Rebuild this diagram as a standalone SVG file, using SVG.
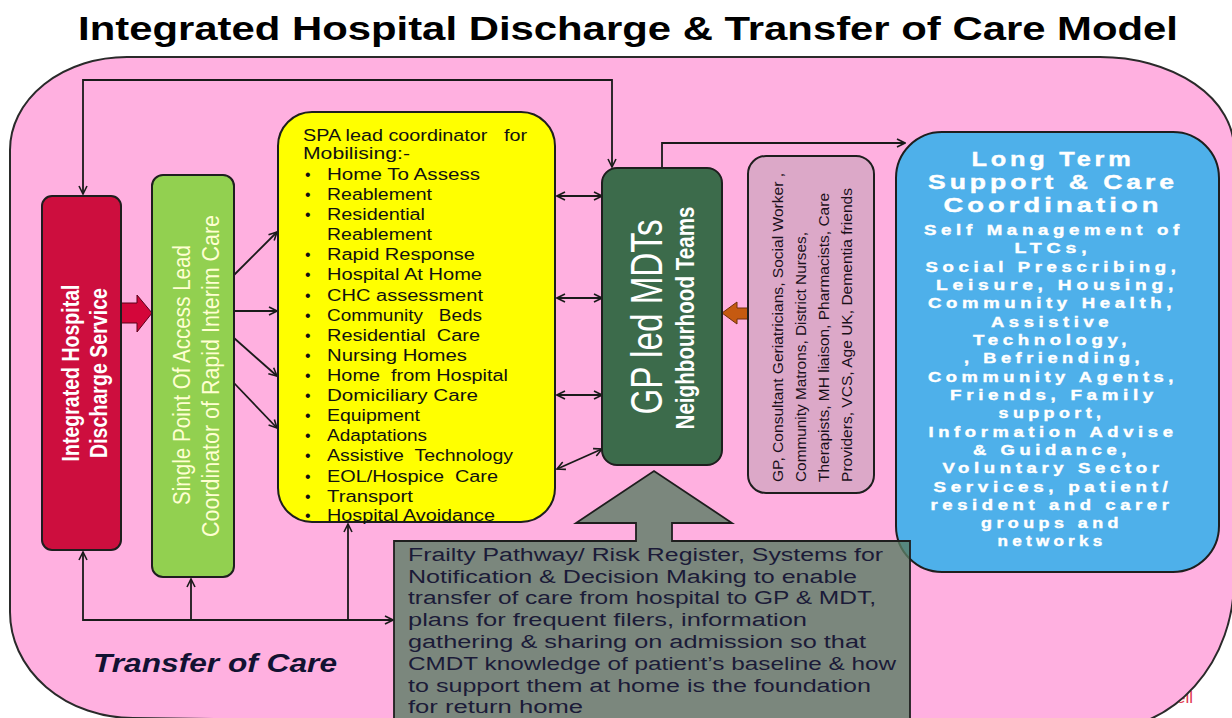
<svg xmlns="http://www.w3.org/2000/svg" width="1232" height="718" viewBox="0 0 1232 718">
  <style>
    .node { stroke:#1e1e1e; stroke-width:2; }
    .conn { fill:none; stroke:#1a1a1a; stroke-width:1.8; }
    .sans { font-family:"Liberation Sans", Arial, sans-serif; }
    .ylw { font-family:"Liberation Sans", Arial, sans-serif; font-size:16px; fill:#111; }
    .blueT { font-family:"Liberation Sans", Arial, sans-serif; font-weight:bold; fill:#fff; stroke:#fff; stroke-width:0.4; }
    .gray { font-family:"Liberation Sans", Arial, sans-serif; font-size:18px; fill:#1b1b38; }
    .team { font-family:"Liberation Sans", Arial, sans-serif; font-size:12px; fill:#1a101a; }
  </style>
  <defs>
    <marker id="arr" viewBox="0 0 10 10" refX="9" refY="5" markerWidth="10" markerHeight="10" markerUnits="userSpaceOnUse" orient="auto-start-reverse">
      <path d="M1,1 L9,5 L1,9" fill="none" stroke="#1a1a1a" stroke-width="1.6"/>
    </marker>
  </defs>

  <rect width="1232" height="718" fill="#ffffff"/>

  <!-- partial logo word at the lower right -->
  <text x="1176" y="703" class="sans" font-size="17" fill="#e23a55">ell</text>

  <!-- title -->
  <text x="78" y="40" class="sans" font-size="34" font-weight="bold" fill="#000" textLength="1100" lengthAdjust="spacingAndGlyphs">Integrated Hospital Discharge &amp; Transfer of Care Model</text>

  <!-- outer rounded panel -->
  <path d="M127,57 H1100 A134,92 0 0 1 1234,149 V580 A134,150 0 0 1 1100,730 L133,718 A123,106 0 0 1 10,612 V150 A117,93 0 0 1 127,57 Z" fill="#ffb0e0" stroke="#2a2a2a" stroke-width="2"/>

  <text x="93" y="672" class="sans" font-size="25" font-weight="bold" font-style="italic" fill="#121232" textLength="244" lengthAdjust="spacingAndGlyphs">Transfer of Care</text>

  <!-- connectors -->
  <g id="connectors">
    <path class="conn" d="M83,194 V80 H612 V167" marker-start="url(#arr)" marker-end="url(#arr)"/>
    <path class="conn" d="M662,168 V143 H905" marker-end="url(#arr)"/>
    <line class="conn" x1="234" y1="275" x2="277" y2="232" marker-end="url(#arr)"/>
    <line class="conn" x1="234" y1="311" x2="277" y2="311" marker-end="url(#arr)"/>
    <line class="conn" x1="234" y1="338" x2="277" y2="376" marker-end="url(#arr)"/>
    <line class="conn" x1="234" y1="383" x2="277" y2="428" marker-end="url(#arr)"/>
    <line class="conn" x1="557" y1="196" x2="602" y2="196" marker-start="url(#arr)" marker-end="url(#arr)"/>
    <line class="conn" x1="557" y1="298" x2="602" y2="298" marker-start="url(#arr)" marker-end="url(#arr)"/>
    <line class="conn" x1="557" y1="395" x2="602" y2="395" marker-start="url(#arr)" marker-end="url(#arr)"/>
    <line class="conn" x1="557" y1="469" x2="602" y2="449" marker-start="url(#arr)" marker-end="url(#arr)"/>
    <path class="conn" d="M83,552 V620 H393" marker-start="url(#arr)" marker-end="url(#arr)"/>
    <path class="conn" d="M191,620 V579" marker-end="url(#arr)"/>
    <path class="conn" d="M348,620 V524" marker-end="url(#arr)"/>
    <polygon points="152,313 137,295 137,303 121,303 121,323 137,323 137,332" fill="#d4063a" stroke="#5a0018" stroke-width="1"/>
    <polygon points="722,313 737,302 737,308 748,308 748,319 737,319 737,324" fill="#c55a11" stroke="#6e300a" stroke-width="1"/>
  </g>

  <!-- Integrated Hospital Discharge Service -->
  <g id="discharge">
    <rect class="node" x="42" y="196" width="79" height="354" rx="10" fill="#cd0e3e"/>
    <text class="sans" font-size="19" font-weight="bold" fill="#fff" text-anchor="middle" textLength="177" lengthAdjust="spacingAndGlyphs" transform="translate(79,373) scale(1.23,1) rotate(-90)">Integrated Hospital</text>
    <text class="sans" font-size="19" font-weight="bold" fill="#fff" text-anchor="middle" textLength="170" lengthAdjust="spacingAndGlyphs" transform="translate(107,373) scale(1.23,1) rotate(-90)">Discharge Service</text>
  </g>

  <!-- Single Point of Access -->
  <g id="spa">
    <rect class="node" x="152" y="175" width="82" height="402" rx="11" fill="#92d050"/>
    <text class="sans" font-size="20" fill="#ffffd2" text-anchor="middle" textLength="260" lengthAdjust="spacingAndGlyphs" transform="translate(190,375) scale(1.23,1) rotate(-90)">Single Point Of Access  Lead</text>
    <text class="sans" font-size="20" fill="#ffffd2" text-anchor="middle" textLength="322" lengthAdjust="spacingAndGlyphs" transform="translate(219,376) scale(1.23,1) rotate(-90)">Coordinator of Rapid Interim Care</text>
  </g>

  <!-- SPA mobilising list -->
  <g id="mobilising">
    <rect class="node" x="278" y="112" width="277" height="410" rx="34" fill="#ffff00"/>
    <text class="ylw" x="303" y="141" textLength="224" lengthAdjust="spacingAndGlyphs" xml:space="preserve">SPA lead coordinator   for</text>
    <text class="ylw" x="303" y="159" textLength="107" lengthAdjust="spacingAndGlyphs">Mobilising:-</text>
    <g class="ylw">
      <text x="305" y="180">•</text><text x="327" y="180" textLength="153" lengthAdjust="spacingAndGlyphs">Home To Assess</text>
      <text x="305" y="200">•</text><text x="327" y="200" textLength="105" lengthAdjust="spacingAndGlyphs">Reablement</text>
      <text x="305" y="220">•</text><text x="327" y="220" textLength="98" lengthAdjust="spacingAndGlyphs">Residential</text>
      <text x="327" y="240" textLength="105" lengthAdjust="spacingAndGlyphs">Reablement</text>
      <text x="305" y="260">•</text><text x="327" y="260" textLength="148" lengthAdjust="spacingAndGlyphs">Rapid Response</text>
      <text x="305" y="280">•</text><text x="327" y="280" textLength="155" lengthAdjust="spacingAndGlyphs">Hospital At Home</text>
      <text x="305" y="301">•</text><text x="327" y="301" textLength="156" lengthAdjust="spacingAndGlyphs">CHC assessment</text>
      <text x="305" y="321">•</text><text x="327" y="321" textLength="155" lengthAdjust="spacingAndGlyphs" xml:space="preserve">Community   Beds</text>
      <text x="305" y="341">•</text><text x="327" y="341" textLength="153" lengthAdjust="spacingAndGlyphs" xml:space="preserve">Residential  Care</text>
      <text x="305" y="361">•</text><text x="327" y="361" textLength="140" lengthAdjust="spacingAndGlyphs">Nursing Homes</text>
      <text x="305" y="381">•</text><text x="327" y="381" textLength="181" lengthAdjust="spacingAndGlyphs" xml:space="preserve">Home  from Hospital</text>
      <text x="305" y="401">•</text><text x="327" y="401" textLength="151" lengthAdjust="spacingAndGlyphs">Domiciliary Care</text>
      <text x="305" y="421">•</text><text x="327" y="421" textLength="93" lengthAdjust="spacingAndGlyphs">Equipment</text>
      <text x="305" y="441">•</text><text x="327" y="441" textLength="100" lengthAdjust="spacingAndGlyphs">Adaptations</text>
      <text x="305" y="461">•</text><text x="327" y="461" textLength="186" lengthAdjust="spacingAndGlyphs" xml:space="preserve">Assistive  Technology</text>
      <text x="305" y="482">•</text><text x="327" y="482" textLength="171" lengthAdjust="spacingAndGlyphs" xml:space="preserve">EOL/Hospice  Care</text>
      <text x="305" y="502">•</text><text x="327" y="502" textLength="86" lengthAdjust="spacingAndGlyphs">Transport</text>
      <text x="305" y="521">•</text><text x="327" y="521" textLength="168" lengthAdjust="spacingAndGlyphs">Hospital Avoidance</text>
    </g>
  </g>

  <!-- GP led MDTs -->
  <g id="gp-mdt">
    <rect class="node" x="602" y="168" width="120" height="297" rx="15" fill="#3c6b4b"/>
    <text class="sans" font-size="36" fill="#fff" text-anchor="middle" textLength="195" lengthAdjust="spacingAndGlyphs" transform="translate(662,317) scale(1.23,1) rotate(-90)">GP led MDTs</text>
    <text class="sans" font-size="21" font-weight="bold" fill="#fff" text-anchor="middle" textLength="223" lengthAdjust="spacingAndGlyphs" transform="translate(694,318) scale(1.23,1) rotate(-90)">Neighbourhood Teams</text>
  </g>

  <!-- Team members -->
  <g id="members">
    <rect class="node" x="748" y="156" width="126" height="337" rx="18" fill="#dca8c8"/>
    <text class="team" textLength="309" lengthAdjust="spacingAndGlyphs" transform="translate(783,482) scale(1.23,1) rotate(-90)">GP, Consultant Geriatricians, Social Worker ,</text>
    <text class="team" textLength="250" lengthAdjust="spacingAndGlyphs" transform="translate(806,482) scale(1.23,1) rotate(-90)">Community Matrons,  District Nurses,</text>
    <text class="team" textLength="289" lengthAdjust="spacingAndGlyphs" transform="translate(829,482) scale(1.23,1) rotate(-90)">Therapists, MH liaison, Pharmacists, Care</text>
    <text class="team" textLength="294" lengthAdjust="spacingAndGlyphs" transform="translate(852,482) scale(1.23,1) rotate(-90)">Providers, VCS, Age UK, Dementia friends</text>
  </g>

  <!-- Long Term Support & Care Coordination -->
  <g id="long-term">
    <rect class="node" x="896" y="132" width="323" height="440" rx="46" fill="#4eb0ea"/>
    <g class="blueT" font-size="20" text-anchor="middle" letter-spacing="3">
      <text x="1053" y="166" textLength="163" lengthAdjust="spacingAndGlyphs">Long Term</text>
      <text x="1053" y="189" textLength="250" lengthAdjust="spacingAndGlyphs">Support &amp; Care</text>
      <text x="1053" y="212" textLength="219" lengthAdjust="spacingAndGlyphs">Coordination</text>
    </g>
    <g class="blueT" font-size="14" text-anchor="middle" letter-spacing="3.5">
      <text x="1054" y="235" textLength="260" lengthAdjust="spacingAndGlyphs">Self Management of</text>
      <text x="1053" y="253" textLength="77" lengthAdjust="spacingAndGlyphs">LTCs,</text>
      <text x="1053" y="272" textLength="255" lengthAdjust="spacingAndGlyphs">Social Prescribing,</text>
      <text x="1057" y="290" textLength="242" lengthAdjust="spacingAndGlyphs">Leisure, Housing,</text>
      <text x="1052" y="308" textLength="248" lengthAdjust="spacingAndGlyphs">Community Health,</text>
      <text x="1052" y="327" textLength="122" lengthAdjust="spacingAndGlyphs">Assistive</text>
      <text x="1052" y="345" textLength="158" lengthAdjust="spacingAndGlyphs">Technology,</text>
      <text x="1054" y="363" textLength="180" lengthAdjust="spacingAndGlyphs">, Befriending,</text>
      <text x="1053" y="382" textLength="250" lengthAdjust="spacingAndGlyphs">Community Agents,</text>
      <text x="1054" y="400" textLength="208" lengthAdjust="spacingAndGlyphs">Friends, Family</text>
      <text x="1052" y="418" textLength="107" lengthAdjust="spacingAndGlyphs">support,</text>
      <text x="1053" y="437" textLength="249" lengthAdjust="spacingAndGlyphs">Information Advise</text>
      <text x="1052" y="455" textLength="158" lengthAdjust="spacingAndGlyphs">&amp; Guidance,</text>
      <text x="1053" y="473" textLength="221" lengthAdjust="spacingAndGlyphs">Voluntary Sector</text>
      <text x="1053" y="492" textLength="239" lengthAdjust="spacingAndGlyphs">Services, patient/</text>
      <text x="1052" y="510" textLength="243" lengthAdjust="spacingAndGlyphs">resident and carer</text>
      <text x="1052" y="528" textLength="142" lengthAdjust="spacingAndGlyphs">groups and</text>
      <text x="1052" y="546" textLength="109" lengthAdjust="spacingAndGlyphs">networks</text>
    </g>
  </g>

  <!-- Frailty pathway / information systems -->
  <g id="frailty">
    <path d="M394,541 H636 V523 H576 L654,471 L732,523 H672 V541 H910 V730 H394 Z" fill="#5a7d64" fill-opacity="0.8" stroke="#1e1e1e" stroke-width="1.8"/>
    <g class="gray">
      <text x="408" y="561" textLength="475" lengthAdjust="spacingAndGlyphs">Frailty Pathway/ Risk Register, Systems for</text>
      <text x="408" y="583" textLength="449" lengthAdjust="spacingAndGlyphs">Notification &amp; Decision Making to enable</text>
      <text x="408" y="604" textLength="468" lengthAdjust="spacingAndGlyphs">transfer of care from hospital to GP &amp; MDT,</text>
      <text x="408" y="626" textLength="399" lengthAdjust="spacingAndGlyphs">plans for frequent filers, information</text>
      <text x="408" y="648" textLength="458" lengthAdjust="spacingAndGlyphs">gathering &amp; sharing on admission so that</text>
      <text x="408" y="670" textLength="488" lengthAdjust="spacingAndGlyphs">CMDT knowledge of patient’s baseline &amp; how</text>
      <text x="408" y="692" textLength="463" lengthAdjust="spacingAndGlyphs">to support them at home is the foundation</text>
      <text x="408" y="713" textLength="175" lengthAdjust="spacingAndGlyphs">for return home</text>
    </g>
  </g>
</svg>
